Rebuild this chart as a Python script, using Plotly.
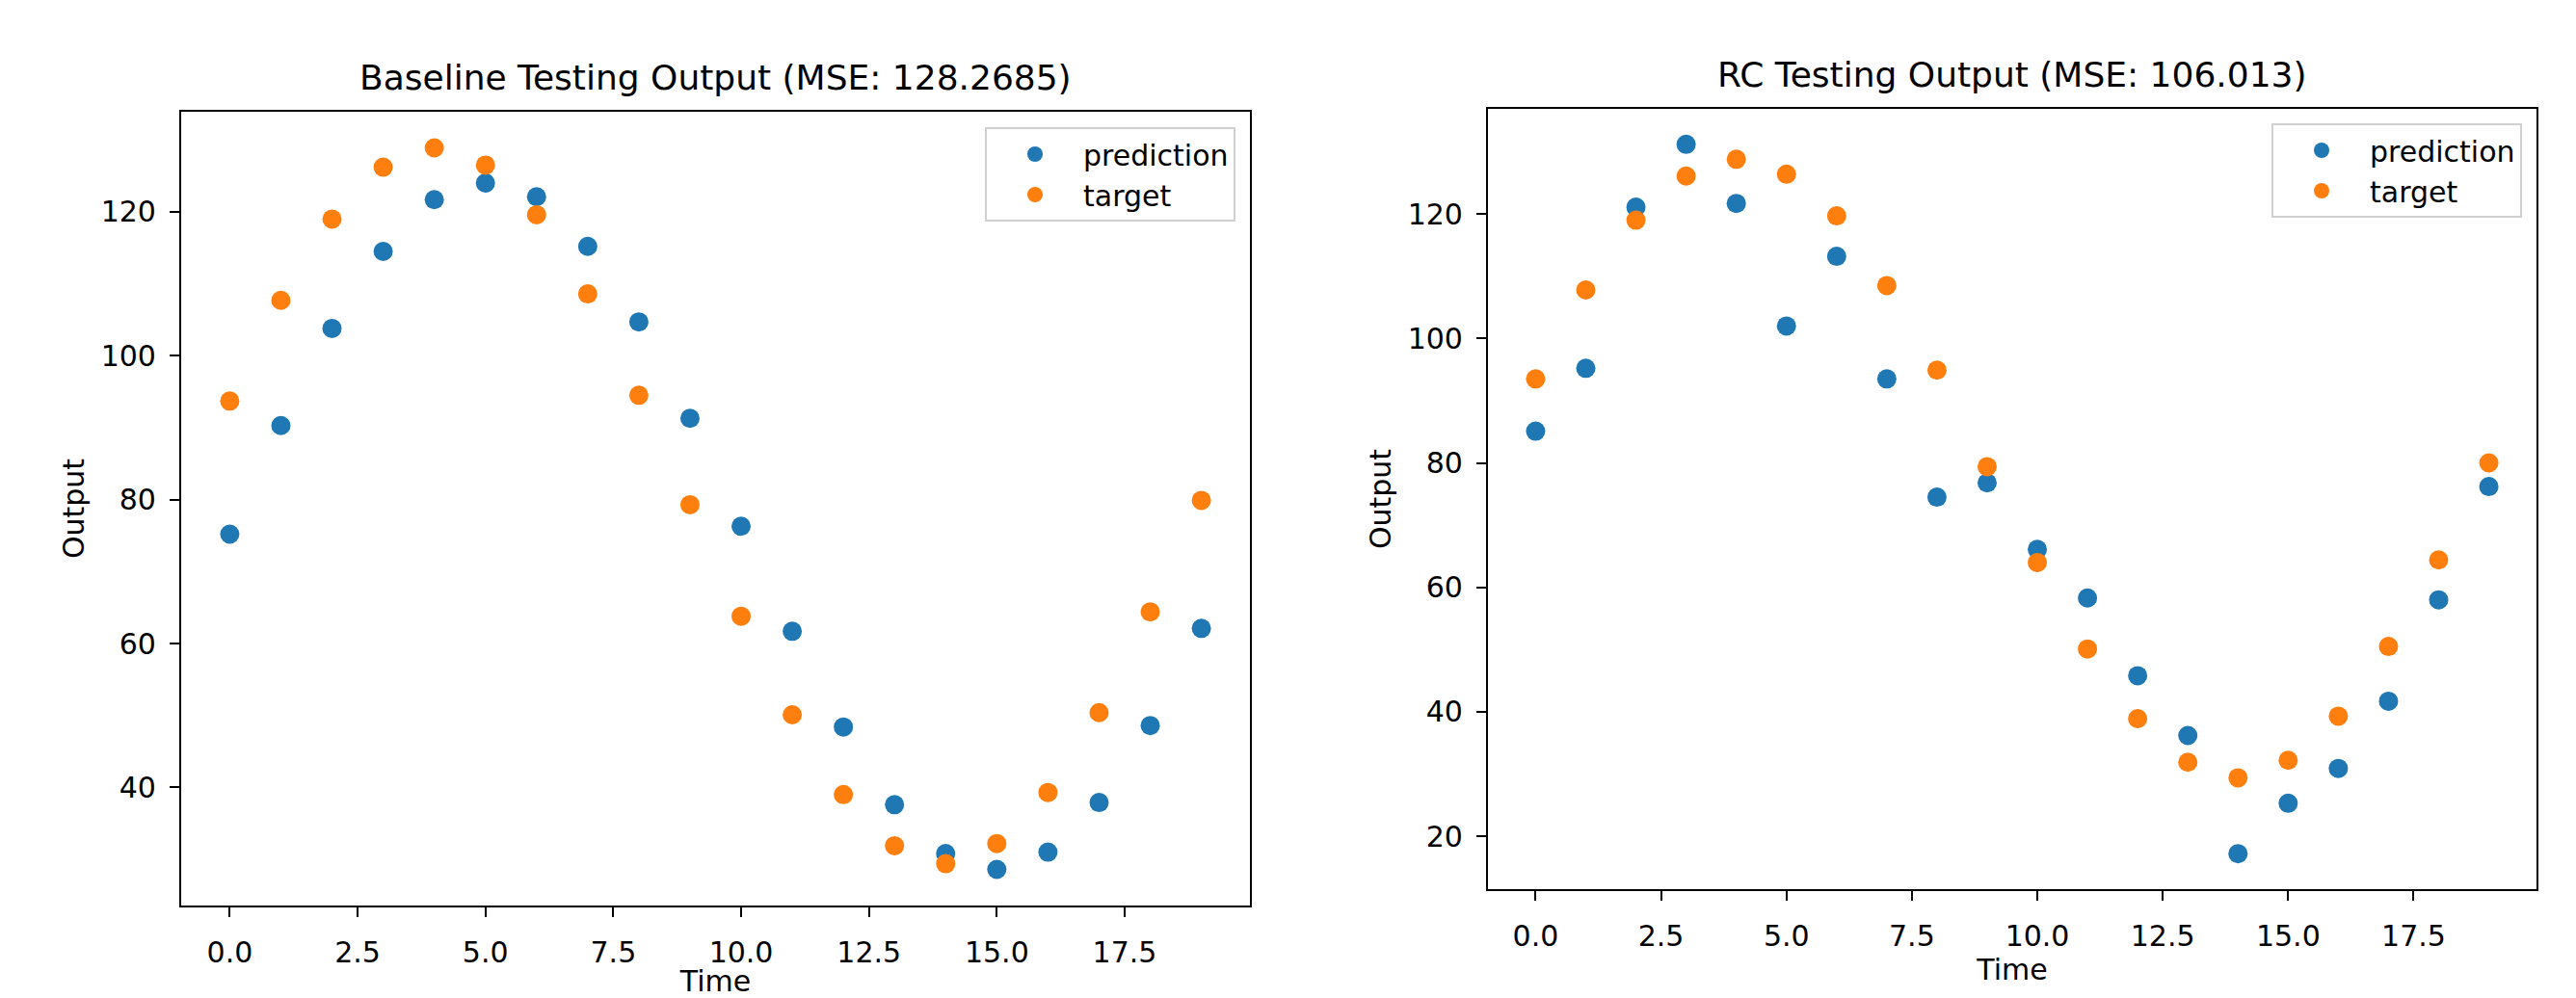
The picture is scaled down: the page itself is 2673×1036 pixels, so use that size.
import plotly.graph_objects as go

# ---------------- data ----------------
time = [0, 1, 2, 3, 4, 5, 6, 7, 8, 9, 10, 11, 12, 13, 14, 15, 16, 17, 18, 19]

baseline_pred = [75.2, 90.3, 103.8, 114.5, 121.7, 124.0, 122.1, 115.2, 104.7, 91.3,
                 76.3, 61.7, 48.4, 37.6, 30.8, 28.6, 31.0, 37.9, 48.6, 62.1]
baseline_target = [93.7, 107.7, 119.0, 126.2, 128.9, 126.5, 119.6, 108.6, 94.5, 79.3,
                   63.8, 50.1, 39.0, 31.9, 29.4, 32.2, 39.3, 50.4, 64.4, 79.9]

rc_pred = [85.1, 95.2, 121.1, 131.2, 121.7, 102.0, 113.2, 93.5, 74.5, 76.8,
           66.1, 58.3, 45.8, 36.2, 17.2, 25.3, 30.9, 41.7, 58.0, 76.2]
rc_target = [93.5, 107.8, 119.0, 126.1, 128.8, 126.4, 119.7, 108.5, 94.9, 79.4,
             64.0, 50.1, 38.9, 31.9, 29.4, 32.2, 39.3, 50.5, 64.4, 80.0]

series_names = ["prediction", "target"]
titles = ["Baseline Testing Output (MSE: 128.2685)", "RC Testing Output (MSE: 106.013)"]
x_label = "Time"
y_label = "Output"
x_tick_vals = [0, 2.5, 5, 7.5, 10, 12.5, 15, 17.5]
x_tick_text = ["0.0", "2.5", "5.0", "7.5", "10.0", "12.5", "15.0", "17.5"]

# ---------------- style ----------------
W, H = 2673, 1036
BLUE = "#1f77b4"
ORANGE = "#ff7f0e"
FONT = "DejaVu Sans"
TICK_FS = 30
TITLE_FS = 36
MSIZE = 20


def padded(vals):
    lo, hi = min(vals), max(vals)
    m = (hi - lo) * 0.05
    return [lo - m, hi + m]


def px_x(p):
    return p / W


def px_y(p):
    return 1 - p / H


# axes boxes in pixels: (left, right, top, bottom)
boxes = [(188, 1297, 116, 940), (1544, 2632, 113, 923)]
legend_pos = [(1282, 132), (2617, 128)]

fig = go.Figure()

panels = [(baseline_pred, baseline_target), (rc_pred, rc_target)]
for i, (pred, targ) in enumerate(panels):
    sfx = "" if i == 0 else str(i + 1)
    leg = "legend" if i == 0 else "legend%d" % (i + 1)
    for vals, name, col in [(pred, series_names[0], BLUE), (targ, series_names[1], ORANGE)]:
        fig.add_trace(go.Scatter(
            x=time, y=vals, mode="markers", name=name,
            marker=dict(color=col, size=MSIZE, line=dict(width=0)),
            xaxis="x" + sfx, yaxis="y" + sfx, legend=leg,
        ))

layout = dict(
    width=W, height=H,
    margin=dict(l=0, r=0, t=0, b=0),
    paper_bgcolor="white", plot_bgcolor="white",
    font=dict(family=FONT, size=TICK_FS, color="black"),
    showlegend=True,
    annotations=[],
)

for i, (pred, targ) in enumerate(panels):
    sfx = "" if i == 0 else str(i + 1)
    l, r, t, b = boxes[i]
    common = dict(
        showline=True, linecolor="black", linewidth=2.2, mirror=True,
        ticks="outside", ticklen=10, tickwidth=2.2, tickcolor="black",
        showgrid=False, zeroline=False, automargin=False,
        tickfont=dict(family=FONT, size=TICK_FS, color="black"),
    )
    layout["xaxis" + sfx] = dict(
        domain=[px_x(l), px_x(r)], anchor="y" + sfx,
        range=padded(time), tickvals=x_tick_vals, ticktext=x_tick_text,
        title=dict(text=x_label, font=dict(family=FONT, size=TICK_FS, color="black"), standoff=2),
        ticklabelstandoff=11,
        **common,
    )
    layout["yaxis" + sfx] = dict(
        domain=[px_y(b), px_y(t)], anchor="x" + sfx,
        range=padded(pred + targ), tick0=0, dtick=20,
        title=dict(text=y_label, font=dict(family=FONT, size=TICK_FS, color="black"), standoff=8),
        ticklabelstandoff=8,
        **common,
    )
    lx, ly = legend_pos[i]
    layout["legend" if i == 0 else "legend%d" % (i + 1)] = dict(
        x=px_x(lx), y=px_y(ly), xanchor="right", yanchor="top",
        xref="paper", yref="paper",
        bgcolor="rgba(255,255,255,0.8)", bordercolor="#d0d0d0", borderwidth=2,
        font=dict(family=FONT, size=TICK_FS, color="black"),
        itemwidth=90, tracegroupgap=0, itemsizing="trace",
    )
    layout["annotations"].append(dict(
        text=titles[i], x=(px_x(l) + px_x(r)) / 2, y=px_y(t),
        xref="paper", yref="paper", xanchor="center", yanchor="bottom",
        yshift=13, showarrow=False,
        font=dict(family=FONT, size=TITLE_FS, color="black"),
    ))

fig.update_layout(**layout)
fig.write_html(
    "out.html",
    config={"displayModeBar": False},
    post_script="document.body.style.margin='0';document.body.style.overflow='hidden';",
)
